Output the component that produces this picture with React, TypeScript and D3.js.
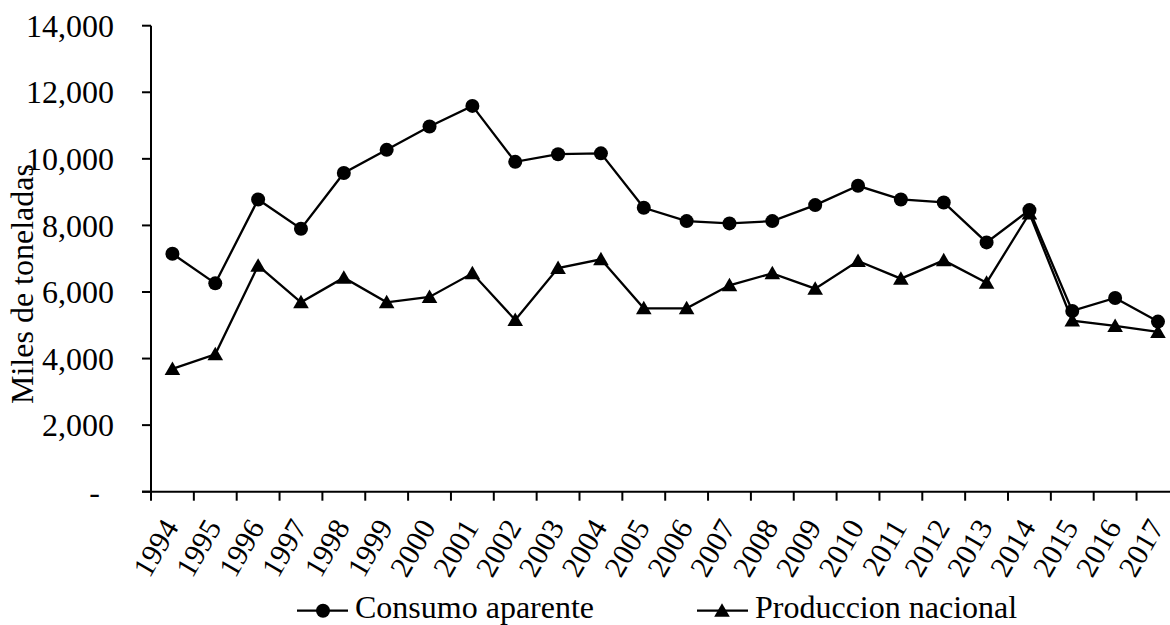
import React from "react";
import * as d3 from "d3";

const years = ["1994","1995","1996","1997","1998","1999","2000","2001","2002","2003","2004","2005","2006","2007","2008","2009","2010","2011","2012","2013","2014","2015","2016","2017"];
const consumo = [7150,6260,8780,7900,9575,10270,10970,11590,9910,10140,10165,8530,8130,8060,8130,8610,9190,8780,8690,7490,8460,5430,5820,5110];
const produccion = [3690,4130,6790,5690,6430,5690,5850,6560,5160,6720,6980,5510,5510,6200,6560,6100,6930,6400,6950,6280,8360,5140,4980,4800];
const yTicks = [0,2000,4000,6000,8000,10000,12000,14000];
const seriesNames = ["Consumo aparente","Produccion nacional"];

const W = 1170, H = 625;
const FONT = "'Liberation Serif', 'Times New Roman', serif";

export default function App() {
  const x = d3.scaleBand<string>().domain(years).range([151, 151 + 42.85 * years.length]);
  const y = d3.scaleLinear().domain([0, 14000]).range([491.7, 25.7]);
  const cx = (yr: string) => (x(yr) as number) + x.bandwidth() / 2;
  const line = d3.line<number>().x((_, i) => cx(years[i])).y((v) => y(v));
  const tri = "M0,-7.5L7.8,6L-7.8,6Z";
  const fmt = (v: number) => (v === 0 ? "-" : d3.format(",")(v));
  const x0 = x.range()[0], x1 = x.range()[1];

  return (
    <svg width={W} height={H} style={{ position: "absolute", left: 0, top: 0, background: "#fff" }} fontFamily={FONT}>
      <rect width={W} height={H} fill="#fff" />
      {/* Y axis */}
      <line x1={x0} x2={x0} y1={y(14000)} y2={y(0)} stroke="#000" strokeWidth={2} />
      {yTicks.map((t) => (
        <g key={t}>
          <line x1={x0 - 9} x2={x0} y1={y(t)} y2={y(t)} stroke="#000" strokeWidth={2} />
          <text x={t === 0 ? 100 : 114} y={y(t)} dy="0.35em" textAnchor="end" fontSize={32}>{fmt(t)}</text>
        </g>
      ))}
      {/* X axis */}
      <line x1={x0 - 9} x2={x1} y1={y(0)} y2={y(0)} stroke="#000" strokeWidth={2} />
      {years.map((yr) => (
        <line key={"t" + yr} x1={x(yr) as number} x2={x(yr) as number} y1={y(0)} y2={y(0) + 9} stroke="#000" strokeWidth={2} />
      ))}
      {years.map((yr) => (
        <text key={"l" + yr} transform={`translate(${cx(yr) + 7},${527}) rotate(-60)`} textAnchor="end" fontSize={30}>{yr}</text>
      ))}
      {/* Y label */}
      <text transform={`translate(33,284) rotate(-90)`} textAnchor="middle" fontSize={32}>Miles de toneladas</text>
      {/* Series */}
      <path d={line(consumo) as string} fill="none" stroke="#000" strokeWidth={2.3} />
      <path d={line(produccion) as string} fill="none" stroke="#000" strokeWidth={2.3} />
      {consumo.map((v, i) => (
        <circle key={"c" + i} cx={cx(years[i])} cy={y(v)} r={7} fill="#000" />
      ))}
      {produccion.map((v, i) => (
        <path key={"p" + i} d={tri} transform={`translate(${cx(years[i])},${y(v)})`} fill="#000" />
      ))}
      {/* Legend */}
      <g>
        <line x1={297} x2={348} y1={610.7} y2={610.7} stroke="#000" strokeWidth={2.3} />
        <circle cx={323} cy={610.7} r={7} fill="#000" />
        <text x={355} y={618} fontSize={32}>{seriesNames[0]}</text>
        <line x1={697} x2={748} y1={610.7} y2={610.7} stroke="#000" strokeWidth={2.3} />
        <path d={tri} transform={`translate(722,610.7)`} fill="#000" />
        <text x={755} y={618} fontSize={32}>{seriesNames[1]}</text>
      </g>
    </svg>
  );
}
